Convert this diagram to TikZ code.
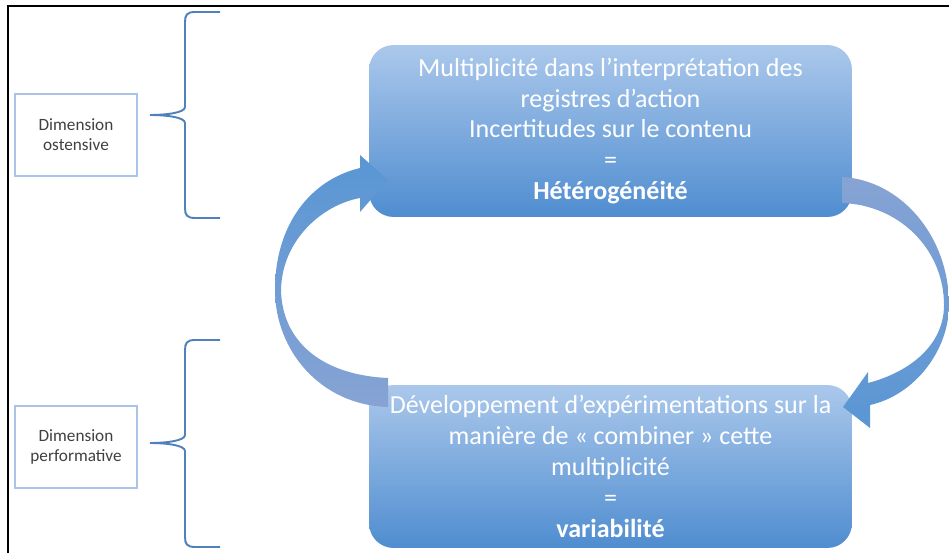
\documentclass[tikz,border=0pt]{standalone}
\usepackage{fontspec}
\setmainfont{Carlito}
\definecolor{boxtop}{RGB}{171,200,235}
\definecolor{boxbottom}{RGB}{79,141,208}
\definecolor{arrowbright}{RGB}{88,150,212}
\definecolor{arrowgrey}{RGB}{135,163,212}
\definecolor{dimline}{RGB}{169,196,232}
\definecolor{dimtext}{RGB}{64,64,64}
\definecolor{braceblue}{RGB}{79,129,189}
\begin{document}
\begin{tikzpicture}[
    x=0.02cm, y=-0.02cm,
    phase/.style={rounded corners=14pt, top color=boxtop, bottom color=boxbottom, text=white, minimum width=9.66cm, align=center, inner sep=0pt, font=\fontsize{14.8}{17.6}\selectfont},
    dim/.style={draw=dimline, line width=0.6pt, fill=white, minimum width=2.44cm, minimum height=1.64cm, align=center, text=dimtext, font=\fontsize{9.8}{11.5}\selectfont},
    curly/.style={draw=braceblue, line width=1.1pt}
]
    \useasboundingbox (0,0) rectangle (949,553);
    \draw[line width=1.2pt] (949,6) -- (8,6) -- (8,553);

    \node[dim] (ost) at (76,135) {Dimension\\ostensive};
    \node[dim] (perf) at (76,447) {Dimension\\performative};

    \foreach \ya/\yb/\yc in {12/115/218, 340/443/547}
        \draw[curly] (220,\ya) -- (195,\ya) .. controls (187,\ya) and (185,\ya+3) .. (185,\ya+10)
            -- (185,\yb-8) .. controls (185,\yb-2) and (165,\yb) .. (150,\yb)
            .. controls (165,\yb) and (185,\yb+2) .. (185,\yb+8)
            -- (185,\yc-10) .. controls (185,\yc-3) and (187,\yc) .. (195,\yc) -- (220,\yc);

    \node[phase, minimum height=3.44cm] (hetero) at (610.5,131) {Multiplicité dans l’interprétation des\\registres d’action\\Incertitudes sur le contenu\\=\\\textbf{Hétérogénéité}};
    \node[phase, minimum height=3.26cm] (vari) at (610.5,466.5) {Développement d’expérimentations sur la\\manière de « combiner » cette\\multiplicité\\=\\\textbf{variabilité}};

    % curved arrows
    \shade[top color=arrowbright, bottom color=arrowgrey]
        (388,378) -- (388,407) .. controls (320,405) and (275,350) .. (275,290)
        .. controls (275,225) and (310,180) .. (360,168) -- (360,155) -- (388,180) -- (360,212) -- (360,198)
        .. controls (322,205) and (282,240) .. (281,290) .. controls (282,340) and (320,375) .. (388,378) -- cycle;
    \shade[top color=arrowgrey, bottom color=arrowbright]
        (842,177) .. controls (900,180) and (949,235) .. (949,305)
        .. controls (949,350) and (915,395) .. (870,405) -- (870,428) -- (843,407) -- (868,372) -- (868,383)
        .. controls (910,372) and (944,345) .. (944,305) .. controls (944,250) and (900,205) .. (842,203) -- cycle;
\end{tikzpicture}
\end{document}
